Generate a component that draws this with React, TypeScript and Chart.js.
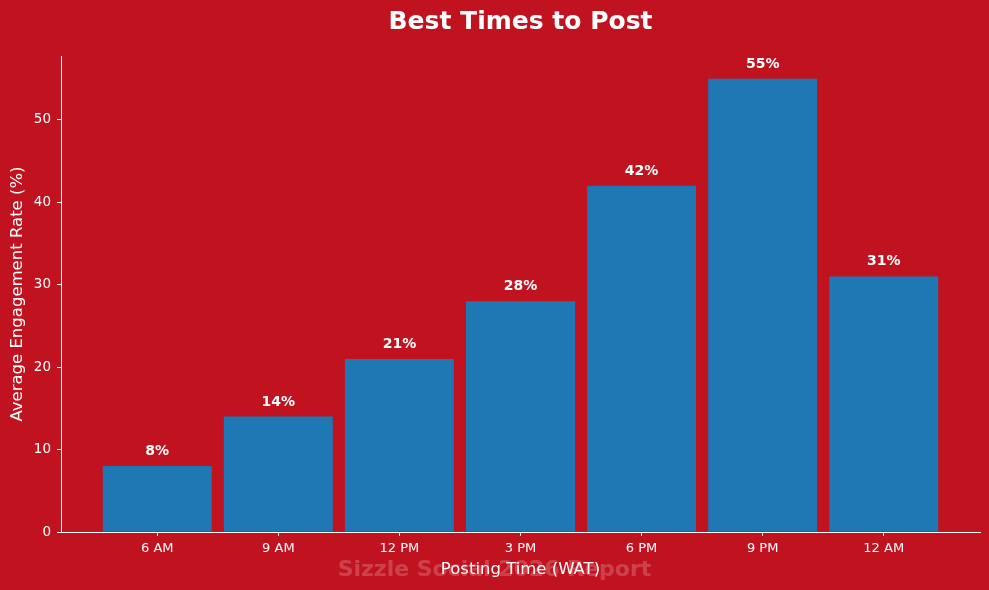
import React, { useEffect, useRef } from 'react';
import { Chart, registerables } from 'chart.js';

Chart.register(...registerables);

const timeLabels = ['6 AM', '9 AM', '12 PM', '3 PM', '6 PM', '9 PM', '12 AM'];
const engagement = [8, 14, 21, 28, 42, 55, 31];
const yTicks = [0, 10, 20, 30, 40, 50];

const BG = '#c1121f';
const BAR = '#1f77b4';
const FONT = '"DejaVu Sans", sans-serif';

const decorPlugin = {
  id: 'decor',
  beforeDraw(chart: any) {
    const { ctx, width, height, chartArea } = chart;
    ctx.save();
    ctx.fillStyle = BG;
    ctx.fillRect(0, 0, width, height);
    // watermark
    ctx.font = `bold 22px ${FONT}`;
    ctx.fillStyle = 'rgba(255,255,255,0.2)';
    ctx.textAlign = 'center';
    ctx.textBaseline = 'middle';
    ctx.fillText('Sizzle Social 2026 Report', width / 2, 570);
    ctx.restore();

    ctx.save();
    const cx = (chartArea.left + chartArea.right) / 2;
    ctx.fillStyle = '#ffffff';
    ctx.textAlign = 'center';
    ctx.textBaseline = 'middle';
    ctx.font = `bold 25px ${FONT}`;
    ctx.fillText('Best Times to Post', cx, 22);
    ctx.font = `16.5px ${FONT}`;
    ctx.fillText('Posting Time (WAT)', cx, 570);
    ctx.translate(18, (chartArea.top + chartArea.bottom) / 2);
    ctx.rotate(-Math.PI / 2);
    ctx.fillText('Average Engagement Rate (%)', 0, 0);
    ctx.restore();
  },
  afterDatasetsDraw(chart: any) {
    const { ctx } = chart;
    const meta = chart.getDatasetMeta(0);
    ctx.save();
    ctx.fillStyle = '#ffffff';
    ctx.font = `bold 14px ${FONT}`;
    ctx.textAlign = 'center';
    ctx.textBaseline = 'alphabetic';
    meta.data.forEach((bar: any, i: number) => {
      ctx.fillText(`${engagement[i]}%`, bar.x, bar.y - 11);
    });
    ctx.restore();
  },
};

export default function App() {
  const chartRef = useRef<HTMLCanvasElement>(null);
  const chartInstance = useRef<Chart | null>(null);

  useEffect(() => {
    if (!chartRef.current) return;
    const ctx = chartRef.current.getContext('2d');
    if (!ctx) return;
    if (chartInstance.current) chartInstance.current.destroy();

    chartInstance.current = new Chart(ctx, {
      type: 'bar',
      data: {
        datasets: [
          {
            label: 'Engagement',
            data: engagement.map((v, i) => ({ x: i, y: v })),
            backgroundColor: BAR,
            borderWidth: 0,
            barPercentage: 0.9,
            categoryPercentage: 1,
          },
        ],
      },
      options: {
        responsive: false,
        animation: false,
        layout: { padding: { left: 0, right: 9, top: 56, bottom: 0 } },
        plugins: {
          legend: { display: false },
          title: { display: false },
          tooltip: { enabled: false },
        },
        scales: {
          x: {
            type: 'linear',
            offset: false,
            min: -0.795,
            max: 6.795,
            afterBuildTicks: (scale: any) => {
              scale.ticks = timeLabels.map((_, i) => ({ value: i }));
            },
            afterFit: (scale: any) => {
              scale.height = 58;
            },
            grid: { offset: false, drawOnChartArea: false, drawTicks: true, tickLength: 4, color: '#ffffff' },
            border: { display: true, color: '#ffffff', width: 1 },
            ticks: {
              color: '#ffffff',
              font: { family: FONT, size: 13 },
              padding: 5,
              maxRotation: 0,
              autoSkip: false,
              callback: (v: any) => timeLabels[v as number] ?? '',
            },
          },
          y: {
            min: 0,
            max: 57.75,
            afterBuildTicks: (scale: any) => {
              scale.ticks = yTicks.map((v) => ({ value: v }));
            },
            afterFit: (scale: any) => {
              scale.width = 61;
            },
            grid: { drawOnChartArea: false, drawTicks: true, tickLength: 4, color: '#ffffff' },
            border: { display: true, color: '#ffffff', width: 1 },
            ticks: {
              color: '#ffffff',
              font: { family: FONT, size: 13.5 },
              padding: 6,
            },
          },
        },
      },
      plugins: [decorPlugin],
    });

    return () => {
      if (chartInstance.current) {
        chartInstance.current.destroy();
        chartInstance.current = null;
      }
    };
  }, []);

  return (
    <div style={{ position: 'absolute', left: 0, top: 0, width: 989, height: 590 }}>
      <canvas ref={chartRef} width={989} height={590}></canvas>
    </div>
  );
}
